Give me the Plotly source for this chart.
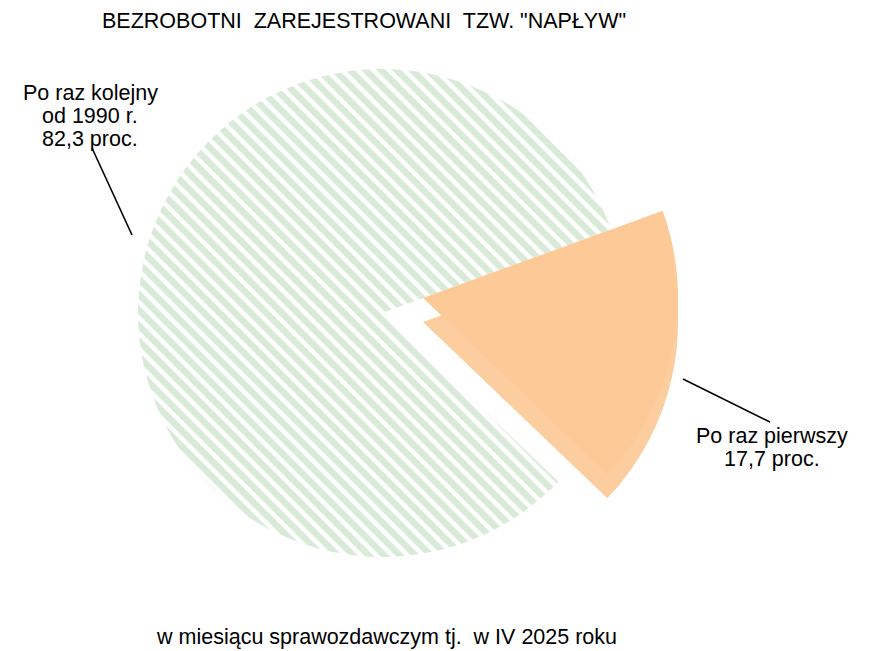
import plotly.graph_objects as go

# Data
categories = ["Po raz pierwszy", "Po raz kolejny od 1990 r."]
values = [17.7, 82.3]

title_text = 'BEZROBOTNI  ZAREJESTROWANI  TZW. "NAPŁYW"'
footer_text = "w miesiącu sprawozdawczym tj.  w IV 2025 roku"
label_first = ["Po raz pierwszy", "17,7 proc."]
label_next = ["Po raz kolejny", "od 1990 r.", "82,3 proc."]

W, H = 872, 651
FONT = "Liberation Sans, Arial, sans-serif"
CLEAR = "rgba(0,0,0,0)"

def dom(cxp, cyp, r):
    return dict(x=[(cxp - r) / W, (cxp + r) / W],
                y=[1 - (cyp + r) / H, 1 - (cyp - r) / H])

common = dict(labels=categories, values=values, sort=False,
              direction="clockwise", rotation=70,
              textinfo="none", showlegend=False)

fig = go.Figure()

# green slice (hatched)
fig.add_trace(go.Pie(
    **common,
    marker=dict(
        colors=[CLEAR, "#FFFFFF"],
        line=dict(width=0),
        pattern=dict(shape=["", "\\"], fgcolor="#B3D5B3", bgcolor="#FFFFFF",
                     size=11, solidity=0.6, fillmode="overlay"),
    ),
    domain=dom(382, 313, 244),
))

# thickness of the exploded slice
fig.add_trace(go.Pie(
    **common,
    marker=dict(colors=["#FCCD9F", CLEAR], line=dict(width=0)),
    hoverinfo="skip",
    domain=dom(423, 322, 255),
))

# exploded slice top face
fig.add_trace(go.Pie(
    **common,
    marker=dict(colors=["#FDCA97", CLEAR], line=dict(width=0)),
    domain=dom(423, 298, 255),
))

annotations = []
def add_text(text, x, y):
    annotations.append(dict(text=text, x=x / W, y=1 - y / H, xref="paper", yref="paper",
                            showarrow=False, xanchor="center", yanchor="middle",
                            font=dict(family=FONT, size=21.5, color="#000000")))

add_text(title_text, 364, 21)
add_text(footer_text, 386, 637)
for i, t in enumerate(label_next):
    add_text(t, 90, 93 + 23 * i)
for i, t in enumerate(label_first):
    add_text(t, 772, 436 + 23 * i)

shapes = [
    dict(type="line", xref="paper", yref="paper", x0=92 / W, y0=1 - 148 / H,
         x1=132 / W, y1=1 - 235 / H, line=dict(color="#000000", width=1.6)),
    dict(type="line", xref="paper", yref="paper", x0=683 / W, y0=1 - 379 / H,
         x1=770 / W, y1=1 - 422 / H, line=dict(color="#000000", width=1.6)),
]

fig.update_layout(
    width=W, height=H, margin=dict(l=0, r=0, t=0, b=0),
    paper_bgcolor="#FFFFFF", plot_bgcolor="#FFFFFF",
    annotations=annotations, shapes=shapes,
    font=dict(family=FONT),
)

fig.write_html("out.html", config={"displayModeBar": False},
               post_script="document.body.style.margin='0';document.body.style.overflow='hidden';")
